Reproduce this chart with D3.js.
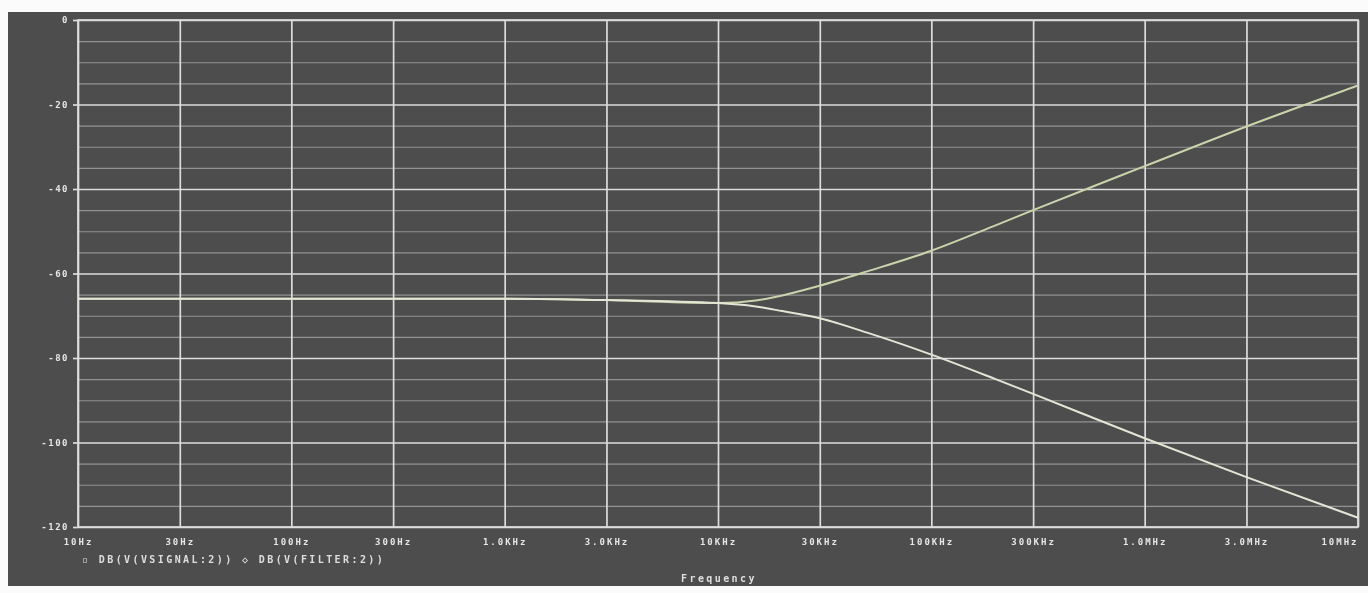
<!DOCTYPE html>
<html>
<head>
<meta charset="utf-8">
<script src="https://cdn.jsdelivr.net/npm/d3@7"></script>
<style>
  body{margin:0;background:#fbfbfb;}
  svg text{font-family:"DejaVu Sans Mono",monospace;font-weight:bold;}
</style>
</head>
<body>
<div id="chart"></div>
<script>
// x axis ticks (Hz) and their labels
const freqTicks=[10,30,100,300,1e3,3e3,1e4,3e4,1e5,3e5,1e6,3e6,1e7]
const freqLabels=["10Hz","30Hz","100Hz","300Hz","1.0KHz","3.0KHz","10KHz","30KHz","100KHz","300KHz","1.0MHz","3.0MHz","10MHz"]
const dbTicks=[0,-20,-40,-60,-80,-100,-120]
const dbMinor=[-5,-10,-15,-25,-30,-35,-45,-50,-55,-65,-70,-75,-85,-90,-95,-105,-110,-115]

// frequency points
const freqs=[10,100,1e3,3e3,1e4,1.5e4,2e4,3e4,5e4,1e5,2e5,3e5,1e6,3e6,1e7]
// falling trace
const filterDb=[-66,-66,-66,-66.3,-67,-67.8,-68.9,-70.6,-74,-79.2,-85,-88.5,-99,-108.2,-117.8]
// rising trace
const signalDb=[-66,-66,-66,-66.3,-67,-66.4,-65.2,-62.9,-59.5,-54.6,-48.6,-45,-34.6,-25.2,-15.5]

const W=1368,H=593
const mLeft=78,mRight=1358,mTop=20,mBottom=527

const svg=d3.select("#chart").append("svg").attr("width",W).attr("height",H)

// soft look of the photographed screen
svg.append("defs").append("filter").attr("id","soft")
  .append("feGaussianBlur").attr("stdDeviation",0.6)

// photo frame
svg.append("rect").attr("x",8).attr("y",12).attr("width",W-8).attr("height",574).attr("fill","#4d4d4d")

const plot=svg.append("g").attr("filter","url(#soft)")

const x=d3.scaleLog().domain([10,1e7]).range([mLeft,mRight])
const y=d3.scaleLinear().domain([-120,0]).range([mBottom,mTop])

// minor horizontal grid
plot.append("g").attr("transform","translate("+mLeft+",0)")
  .call(d3.axisLeft(y).tickValues(dbMinor).tickSize(-(mRight-mLeft)).tickFormat(""))
  .call(g=>g.select(".domain").remove())
  .call(g=>g.selectAll("line").attr("stroke","#a4a4a4").attr("stroke-width",1.1).attr("opacity",0.8))

// major horizontal grid + labels
plot.append("g").attr("transform","translate("+mLeft+",0)")
  .call(d3.axisLeft(y).tickValues(dbTicks).tickSize(-(mRight-mLeft)).tickPadding(9).tickFormat(d=>d))
  .call(g=>g.select(".domain").remove())
  .call(g=>g.selectAll("line").attr("stroke","#dcdcdc").attr("stroke-width",1.7))
  .call(g=>g.selectAll("text").attr("fill","#e6e6e6").attr("font-size",9).attr("letter-spacing",1.5))

// small tick marks left of the axis
plot.append("g").attr("transform","translate("+mLeft+",0)")
  .call(d3.axisLeft(y).tickValues(dbTicks).tickSize(5).tickFormat(""))
  .call(g=>g.select(".domain").remove())
  .call(g=>g.selectAll("line").attr("stroke","#dcdcdc").attr("stroke-width",1.7))

// vertical grid + frequency labels
plot.append("g").attr("transform","translate(0,"+mBottom+")")
  .call(d3.axisBottom(x).tickValues(freqTicks).tickSize(-(mBottom-mTop)).tickPadding(12).tickFormat((d,i)=>freqLabels[i]))
  .call(g=>g.select(".domain").remove())
  .call(g=>g.selectAll("line").attr("stroke","#dcdcdc").attr("stroke-width",1.7))
  .call(g=>g.selectAll("text").attr("fill","#e6e6e6").attr("font-size",9).attr("letter-spacing",2))
  .call(g=>g.selectAll("text").filter((d,i)=>i==freqTicks.length-1).attr("text-anchor","end"))

// plot border
plot.append("rect").attr("x",mLeft).attr("y",mTop).attr("width",mRight-mLeft).attr("height",mBottom-mTop)
  .attr("fill","none").attr("stroke","#dcdcdc").attr("stroke-width",1.7)

const line=d3.line().x(d=>x(d[0])).y(d=>y(d[1])).curve(d3.curveMonotoneX)

plot.append("path").datum(freqs.map((f,i)=>[f,signalDb[i]]))
  .attr("d",line).attr("fill","none").attr("stroke","#c9d4ac").attr("stroke-width",2)
plot.append("path").datum(freqs.map((f,i)=>[f,filterDb[i]]))
  .attr("d",line).attr("fill","none").attr("stroke","#e2e6d4").attr("stroke-width",2)

// legend
plot.append("text").attr("x",82).attr("y",563).attr("fill","#dedede").attr("font-size",10).attr("letter-spacing",2.4)
  .text("\u25AB DB(V(VSIGNAL:2)) \u25C7 DB(V(FILTER:2))")

// axis title
plot.append("text").attr("x",719).attr("y",582).attr("text-anchor","middle").attr("fill","#dedede").attr("font-size",10).attr("letter-spacing",2.4)
  .text("Frequency")
</script>
</body>
</html>
